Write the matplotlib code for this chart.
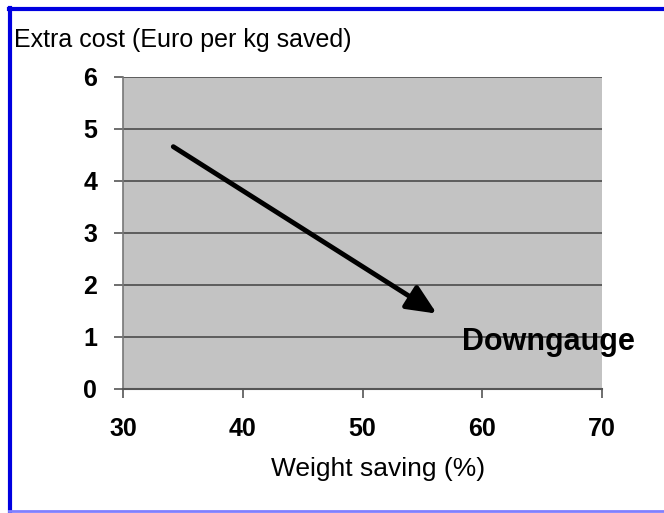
import matplotlib
matplotlib.use("Agg")
import matplotlib.pyplot as plt
from matplotlib.lines import Line2D

plt.rcParams['font.family'] = ['Liberation Sans', 'DejaVu Sans']

x_ticks = [30, 40, 50, 60, 70]
y_ticks = [0, 1, 2, 3, 4, 5, 6]
arrow_start = (34.2, 4.66)
arrow_end = (56.2, 1.45)
label_text = "Downgauge"
label_pos = (58.3, 0.75)

W, H = 664, 513
fig = plt.figure(figsize=(W / 100, H / 100), dpi=100)
ax = fig.add_axes([123 / W, 1 - 389 / H, (602 - 123) / W, (389 - 77) / H])
ax.set_facecolor('#c3c3c3')
ax.set_xlim(30, 70)
ax.set_ylim(0, 6)
ax.set_xticks(x_ticks)
ax.set_yticks(y_ticks)
ax.set_xticklabels([str(v) for v in x_ticks], fontsize=18, fontweight='bold')
ax.set_yticklabels([str(v) for v in y_ticks], fontsize=18, fontweight='bold')
ax.tick_params(axis='both', direction='out', length=6.5, width=1.2, color='#555555')
ax.tick_params(axis='x', pad=14)
ax.tick_params(axis='y', pad=12)
ax.grid(axis='y', color='#555555', linewidth=1.3)
ax.set_axisbelow(True)
for s in ['top', 'right']:
    ax.spines[s].set_visible(False)
ax.spines['left'].set_color('#777777')
ax.spines['bottom'].set_color('#555555')
ax.spines['left'].set_linewidth(1.2)
ax.spines['bottom'].set_linewidth(1.5)

ax.annotate('', xy=arrow_end, xytext=arrow_start,
            arrowprops=dict(arrowstyle='-|>,head_length=1.0,head_width=0.45', color='black', lw=3.5,
                            shrinkA=0, shrinkB=0, mutation_scale=18))
ax.text(label_pos[0], label_pos[1], label_text, fontsize=22, fontweight='bold',
        ha='left', va='baseline', clip_on=False)

fig.text(378 / W, 1 - 476 / H, 'Weight saving (%)', fontsize=19, ha='center', va='baseline')
fig.text(14 / W, 1 - 47 / H, 'Extra cost (Euro per kg saved)', fontsize=18,
         ha='left', va='baseline')

# blue frame
fig.add_artist(Line2D([10 / W, 10 / W], [0, 1 - 8 / H], transform=fig.transFigure, color='#0000e0', lw=3))
fig.add_artist(Line2D([9 / W, 1], [1 - 9 / H, 1 - 9 / H], transform=fig.transFigure, color='#0000e0', lw=3))
fig.add_artist(Line2D([9 / W, 1], [2 / H, 2 / H], transform=fig.transFigure, color='#8080ff', lw=2))

fig.savefig('out.png', dpi=100)
